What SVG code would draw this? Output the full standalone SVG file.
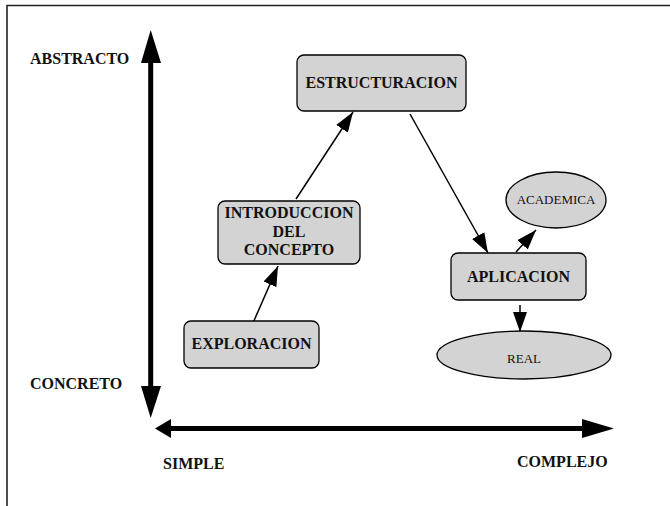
<svg xmlns="http://www.w3.org/2000/svg" width="670" height="506" viewBox="0 0 670 506">
  <style>
    .box { fill: #d3d3d3; stroke: #000; stroke-width: 1.3; }
    .lbl { font-family: "Liberation Serif", "Times New Roman", serif; font-size: 16px; font-weight: bold; fill: #111; text-anchor: middle; }
    .axis-lbl { font-family: "Liberation Serif", "Times New Roman", serif; font-size: 16px; font-weight: bold; fill: #111; }
    .small { font-family: "Liberation Serif", "Times New Roman", serif; font-size: 13px; fill: #111; text-anchor: middle; }
    .edge { stroke: #000; stroke-width: 1.5; fill: none; marker-end: url(#arrow); }
  </style>
  <defs>
    <marker id="arrow" markerUnits="userSpaceOnUse" markerWidth="20" markerHeight="14" refX="20" refY="7" orient="auto">
      <path d="M0,0 L20,7 L0,14 z" fill="#000"/>
    </marker>
  </defs>

  <rect width="670" height="506" fill="#fff"/>

  <!-- frame -->
  <path d="M7,506 L7,5.5 L670,5.5" fill="none" stroke="#222" stroke-width="1.6"/>

  <!-- axes -->
  <g id="axes" fill="#000">
    <rect x="148.2" y="60" width="5" height="328"/>
    <polygon points="150.7,30 141,63 161,63"/>
    <polygon points="150.7,418 141,386 161,386"/>
    <rect x="168" y="426" width="416" height="5"/>
    <polygon points="155,428.5 171,419 171,438"/>
    <polygon points="614,428.5 582,419 582,438"/>
  </g>

  <!-- axis labels -->
  <text class="axis-lbl" x="30" y="64">ABSTRACTO</text>
  <text class="axis-lbl" x="30" y="389">CONCRETO</text>
  <text class="axis-lbl" x="163" y="469">SIMPLE</text>
  <text class="axis-lbl" x="517" y="467">COMPLEJO</text>

  <!-- connectors -->
  <g id="connectors">
    <line class="edge" x1="253" y1="323" x2="278" y2="266"/>
    <line class="edge" x1="296" y1="199" x2="353" y2="112"/>
    <line class="edge" x1="410" y1="114" x2="488" y2="253"/>
    <line class="edge" x1="516" y1="252" x2="536" y2="230"/>
    <line class="edge" x1="520" y1="305" x2="520" y2="332"/>
  </g>

  <!-- nodes -->
  <g id="estructuracion">
    <rect class="box" x="297" y="55" width="169" height="56" rx="7"/>
    <text class="lbl" x="381.5" y="88">ESTRUCTURACION</text>
  </g>
  <g id="introduccion">
    <rect class="box" x="218" y="201" width="142" height="63" rx="7"/>
    <text class="lbl" x="289" y="218">INTRODUCCION</text>
    <text class="lbl" x="289" y="237">DEL</text>
    <text class="lbl" x="289" y="255">CONCEPTO</text>
  </g>
  <g id="exploracion">
    <rect class="box" x="184" y="321" width="135" height="47" rx="7"/>
    <text class="lbl" x="251.5" y="349">EXPLORACION</text>
  </g>
  <g id="aplicacion">
    <rect class="box" x="451" y="253" width="135" height="47" rx="7"/>
    <text class="lbl" x="518.5" y="282">APLICACION</text>
  </g>
  <g id="academica">
    <ellipse class="box" cx="556" cy="200" rx="50" ry="28"/>
    <text class="small" x="556" y="204">ACADEMICA</text>
  </g>
  <g id="real">
    <ellipse class="box" cx="524" cy="355" rx="87" ry="24"/>
    <text class="small" x="524" y="363">REAL</text>
  </g>
</svg>
